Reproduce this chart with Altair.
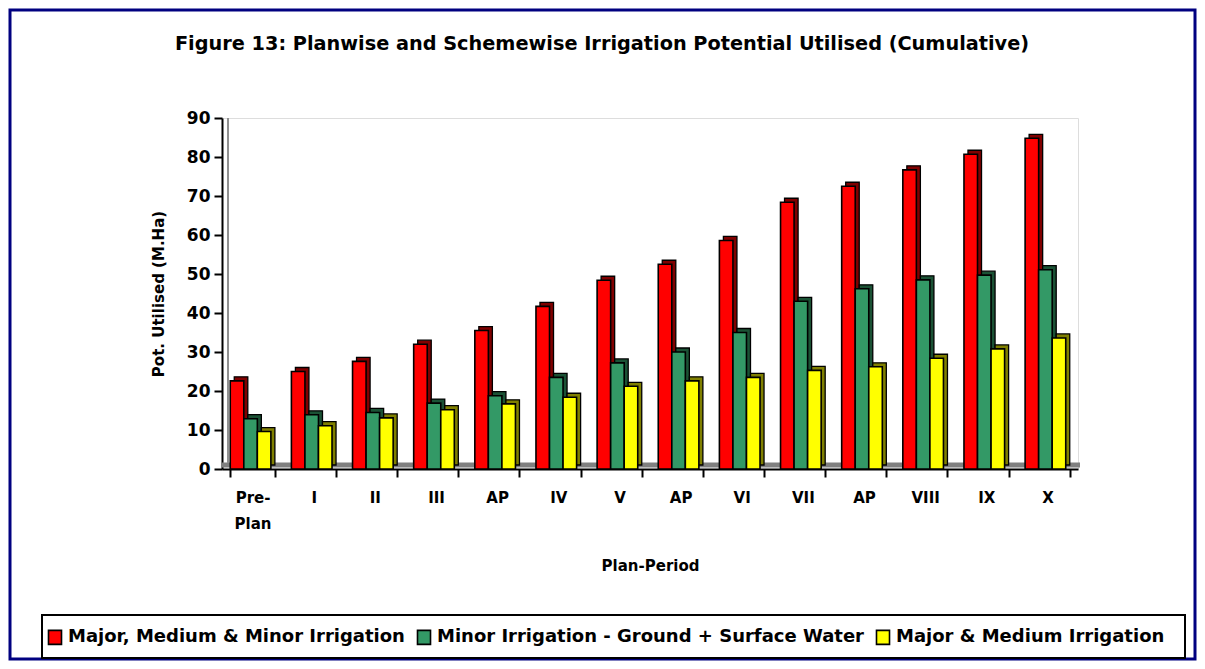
import json
import altair as alt
import pandas as pd

# ---- data ----
periods = ["Pre-Plan", "I", "II", "III", "AP", "IV", "V", "AP", "VI", "VII", "AP", "VIII", "IX", "X"]
series = [
    "Major, Medium & Minor Irrigation",
    "Minor Irrigation - Ground + Surface Water",
    "Major & Medium Irrigation",
]
total_irrigation = [22.6, 25.0, 27.6, 32.0, 35.5, 41.7, 48.4, 52.5, 58.6, 68.4, 72.5, 76.7, 80.7, 84.8]
minor_irrigation = [12.9, 13.9, 14.5, 16.9, 18.8, 23.5, 27.2, 30.0, 35.0, 43.0, 46.2, 48.5, 49.7, 51.1]
major_medium = [9.6, 11.1, 13.1, 15.2, 16.7, 18.4, 21.2, 22.6, 23.5, 25.3, 26.2, 28.4, 30.8, 33.6]
y_ticks = [0, 10, 20, 30, 40, 50, 60, 70, 80, 90]

front_colors = ["#FF0000", "#339966", "#FFFF00"]
side_colors = ["#800000", "#1B5235", "#808000"]

FONT = "DejaVu Sans"
W, H = 856, 351
PAD = {"left": 214, "top": 110, "right": 119, "bottom": 192}
DEPTH_PAD = 0.148  # outer padding of the sub-band scale that makes the 3D depth

rows = []
for i, p in enumerate(periods):
    for s, vals in zip(series, [total_irrigation, minor_irrigation, major_medium]):
        rows.append({"idx": i, "period": p, "series": s, "value": vals[i]})
df = pd.DataFrame(rows)

label_arr = [["Pre-", "Plan"] if p == "Pre-Plan" else p for p in periods]
label_expr = json.dumps(label_arr) + "[datum.value]"

x_enc = alt.X(
    "idx:O",
    title="Plan-Period",
    scale=alt.Scale(paddingInner=0.27, paddingOuter=0.135),
    axis=alt.Axis(
        labelExpr=label_expr, labelAngle=0, labelFont=FONT, labelFontSize=15,
        labelFontWeight="bold", labelColor="black", labelPadding=13, labelLineHeight=26,
        tickBand="extent", tickSize=8, tickColor="black", tickWidth=2,
        domainColor="black", domainWidth=2, titleFont=FONT, titleFontSize=15,
        titleFontWeight="bold", titleColor="black", titlePadding=27,
    ),
)
y_enc = alt.Y(
    "value:Q",
    title="Pot. Utilised (M.Ha)",
    scale=alt.Scale(domain=[0, 90], nice=False),
    axis=alt.Axis(
        values=y_ticks, grid=False, labelFont=FONT, labelFontSize=17, labelFontWeight="bold",
        labelColor="black", labelPadding=4, tickSize=8, tickColor="black", tickWidth=2,
        domainColor="black", domainWidth=2, titleFont=FONT, titleFontSize=15,
        titleFontWeight="bold", titleColor="black", titlePadding=20,
    ),
)

shadow = alt.Chart(df).mark_bar(yOffset=-4, stroke="black", strokeWidth=1.3).encode(
    x=x_enc,
    xOffset=alt.XOffset("series:N", sort=series,
                        scale=alt.Scale(paddingInner=0, paddingOuter=DEPTH_PAD, align=1)),
    y=y_enc,
    color=alt.Color("series:N", scale=alt.Scale(domain=series, range=side_colors), legend=None),
)
front = alt.Chart(df).mark_bar(stroke="black", strokeWidth=1.6).encode(
    x=x_enc,
    xOffset=alt.XOffset("series:N", sort=series,
                        scale=alt.Scale(paddingInner=0, paddingOuter=DEPTH_PAD, align=0)),
    y=y_enc,
    color=alt.Color(
        "series:N",
        scale=alt.Scale(domain=series, range=front_colors),
        legend=alt.Legend(
            title=None, orient="none", legendX=-176, legendY=510, direction="horizontal",
            labelFont=FONT, labelFontSize=18, labelFontWeight="bold", labelColor="black",
            symbolType="M-0.93,-1H0.93V1H-0.93Z", symbolSize=196,
            symbolStrokeColor="black", symbolStrokeWidth=1.6, symbolOpacity=1,
            columnPadding=9, labelOffset=4, labelLimit=700,
        ),
    ),
)

one = pd.DataFrame({"k": [0]})
floor = alt.Chart(one).mark_rule(color="#808080", strokeWidth=5).encode(
    x=alt.value(0), x2=alt.value(W + 2), y=alt.value(H - 4)
)
back_left = alt.Chart(one).mark_rule(color="#909090", strokeWidth=2).encode(
    x=alt.value(6), y=alt.value(0), y2=alt.value(H - 6)
)
border = alt.Chart(one).mark_rect(fill=None, stroke="#000080", strokeWidth=3).encode(
    x=alt.value(-PAD["left"] + 2), x2=alt.value(W + PAD["right"] - 2),
    y=alt.value(-PAD["top"] + 2), y2=alt.value(H + PAD["bottom"] - 2),
)
legend_box = alt.Chart(one).mark_rect(fill="white", stroke="black", strokeWidth=2).encode(
    x=alt.value(-180), x2=alt.value(963), y=alt.value(497), y2=alt.value(540)
)

chart = (
    alt.layer(border, legend_box, floor, back_left, shadow, front)
    .resolve_scale(color="independent", xOffset="independent")
    .properties(
        width=W, height=H,
        autosize=alt.AutoSizeParams(type="none"),
        padding=PAD,
        title=alt.TitleParams(
            "Figure 13: Planwise and Schemewise Irrigation Potential Utilised (Cumulative)",
            font=FONT, fontSize=19.3, fontWeight="bold", color="black",
            anchor="middle", dx=-48, dy=56, offset=10,
        ),
    )
    .configure_view(stroke="#808080", strokeWidth=2)
    .configure(background="white")
)

chart.save("out.html", embed_options={"renderer": "svg", "actions": False})
